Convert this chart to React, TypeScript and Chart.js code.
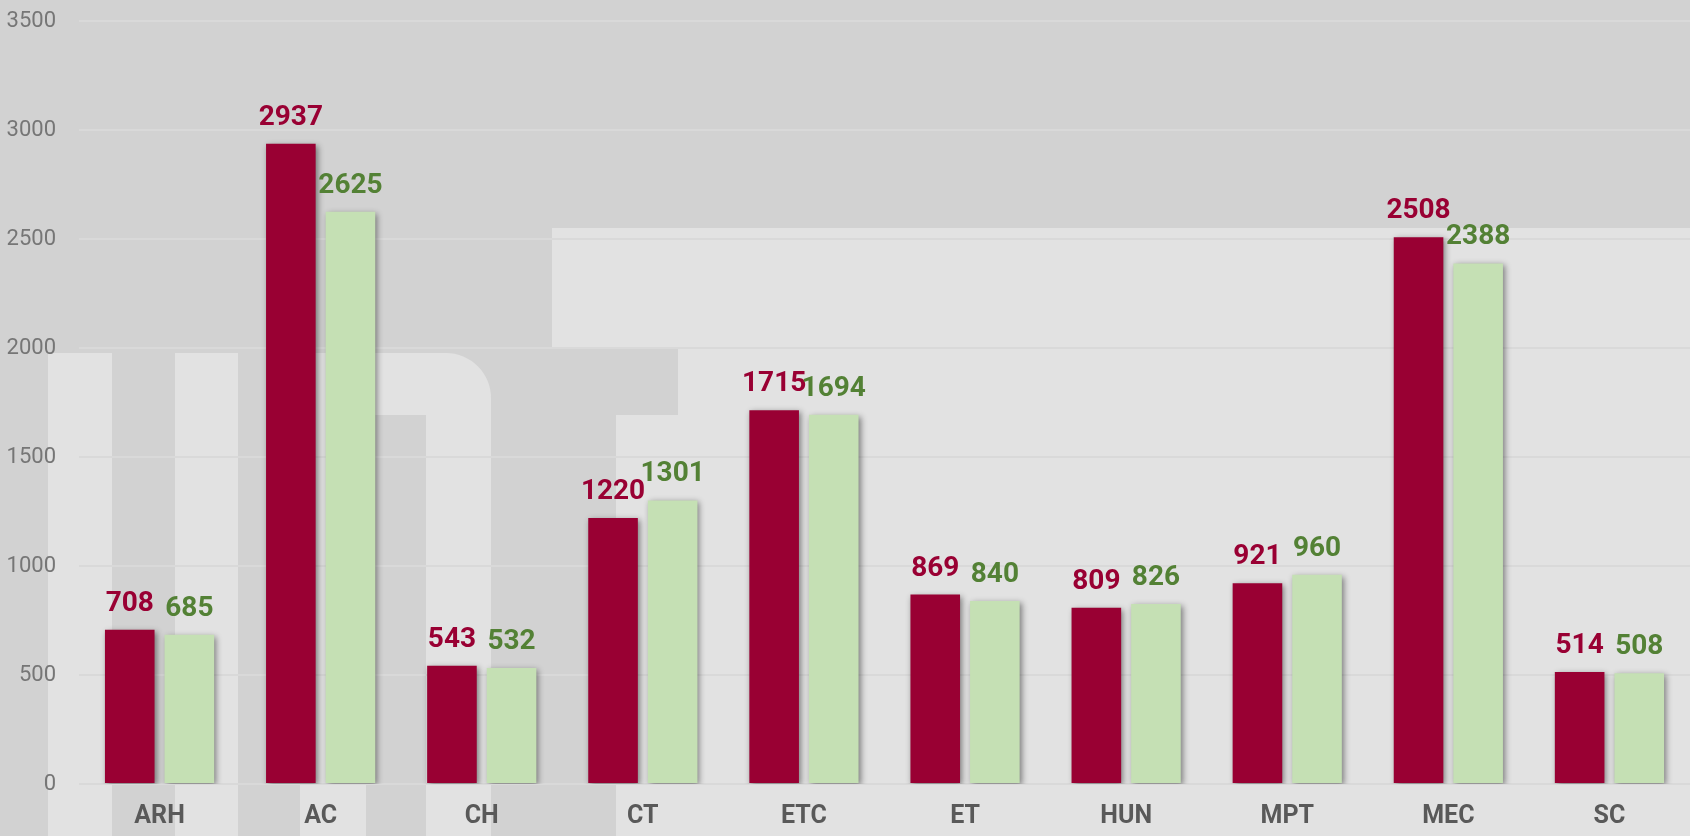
import React, { useEffect, useRef } from "react";
import { Chart, registerables } from "chart.js";

Chart.register(...registerables);

// ---- data ----
const categories = ["ARH", "AC", "CH", "CT", "ETC", "ET", "HUN", "MPT", "MEC", "SC"];
const seriesRed = [708, 2937, 543, 1220, 1715, 869, 809, 921, 2508, 514];
const seriesGreen = [685, 2625, 532, 1301, 1694, 840, 826, 960, 2388, 508];
const yMin = 0;
const yMax = 3500;
const yStep = 500;

// ---- styles ----
const RED = "#990033";
const GREEN = "#C5E0B4";
const GREEN_TEXT = "#538135";
const FONT = "Roboto, 'Open Sans', sans-serif";
const BG_DARK = "#d2d2d2";
const BG_LIGHT = "#e2e2e2";

const backgroundPlugin = {
  id: "upt-background",
  beforeDraw(chart: any) {
    const ctx = chart.ctx as CanvasRenderingContext2D;
    const W = chart.width;
    const H = chart.height;
    ctx.save();
    ctx.fillStyle = BG_DARK;
    ctx.fillRect(0, 0, W, H);
    ctx.fillStyle = BG_LIGHT;
    // U stems
    ctx.fillRect(48, 353, 64, H - 353);
    ctx.fillRect(175, 353, 63, H - 353);
    // P shape
    const r = 45;
    ctx.beginPath();
    ctx.moveTo(300, H);
    ctx.lineTo(300, 353);
    ctx.lineTo(491 - r, 353);
    ctx.arcTo(491, 353, 491, 353 + r, r);
    ctx.lineTo(491, H);
    ctx.lineTo(426, H);
    ctx.lineTo(426, 415);
    ctx.lineTo(366, 415);
    ctx.lineTo(366, H);
    ctx.closePath();
    ctx.fill();
    // T shape
    ctx.beginPath();
    ctx.moveTo(552, 228);
    ctx.lineTo(W, 228);
    ctx.lineTo(W, H);
    ctx.lineTo(616, H);
    ctx.lineTo(616, 415);
    ctx.lineTo(678, 415);
    ctx.lineTo(678, 348);
    ctx.lineTo(552, 348);
    ctx.closePath();
    ctx.fill();
    ctx.restore();
  },
};

const shadowPlugin = {
  id: "bar-shadow",
  beforeDatasetsDraw(chart: any) {
    const ctx = chart.ctx as CanvasRenderingContext2D;
    ctx.save();
    ctx.shadowColor = "rgba(0,0,0,0.45)";
    ctx.shadowBlur = 6;
    ctx.shadowOffsetX = 2;
    ctx.shadowOffsetY = 2;
  },
  afterDatasetsDraw(chart: any) {
    chart.ctx.restore();
  },
};

const valueLabelPlugin = {
  id: "value-labels",
  afterDraw(chart: any) {
    const ctx = chart.ctx as CanvasRenderingContext2D;
    ctx.save();
    ctx.font = `bold 28px ${FONT}`;
    ctx.textAlign = "center";
    ctx.textBaseline = "alphabetic";
    chart.data.datasets.forEach((ds: any, i: number) => {
      const meta = chart.getDatasetMeta(i);
      ctx.fillStyle = ds.labelColor;
      meta.data.forEach((bar: any, j: number) => {
        ctx.fillText(String(ds.data[j]), bar.x, bar.y - 19);
      });
    });
    ctx.restore();
  },
};

export default function App() {
  const canvasRef = useRef<HTMLCanvasElement | null>(null);

  useEffect(() => {
    if (!canvasRef.current) return;
    const chart = new Chart(canvasRef.current, {
      type: "bar",
      data: {
        labels: categories,
        datasets: [
          {
            label: "Series 1",
            data: seriesRed,
            backgroundColor: RED,
            borderWidth: 0,
            labelColor: RED,
          } as any,
          {
            label: "Series 2",
            data: seriesGreen,
            backgroundColor: GREEN,
            borderWidth: 0,
            labelColor: GREEN_TEXT,
          } as any,
        ],
      },
      options: {
        responsive: false,
        animation: false,
        events: [],
        categoryPercentage: 0.74,
        barPercentage: 0.832,
        layout: { padding: { top: 21, left: 0, right: 0, bottom: 0 } },
        plugins: {
          legend: { display: false },
          tooltip: { enabled: false },
          title: { display: false },
        },
        scales: {
          x: {
            grid: { display: false, drawTicks: false },
            border: { display: false },
            ticks: {
              color: "#595959",
              font: { family: FONT, size: 25, weight: "bold" },
              padding: 18,
            },
            afterFit(scale: any) {
              scale.height = 52;
            },
          },
          y: {
            min: yMin,
            max: yMax,
            grid: { color: "#d9d9d9", lineWidth: 2, drawTicks: false },
            border: { display: false },
            ticks: {
              stepSize: yStep,
              color: "#767676",
              font: { family: FONT, size: 22 },
              padding: 23,
              callback: (v: any) => String(v),
            },
            afterFit(scale: any) {
              scale.width = 79;
              scale.paddingTop = 0;
              scale.paddingBottom = 0;
            },
          },
        },
      },
      plugins: [backgroundPlugin, shadowPlugin, valueLabelPlugin],
    });
    return () => chart.destroy();
  }, []);

  return (
    <div style={{ position: "fixed", left: 0, top: 0, width: 1690, height: 836 }}>
      <canvas ref={canvasRef} width={1690} height={836} style={{ display: "block" }} />
    </div>
  );
}
